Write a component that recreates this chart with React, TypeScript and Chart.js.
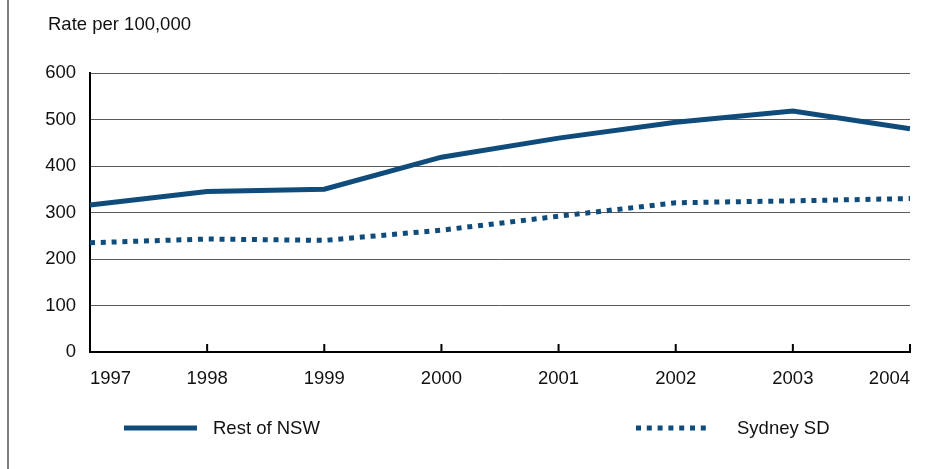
import React, { useEffect, useRef } from "react";
import { Chart, registerables } from "chart.js";

Chart.register(...registerables);

const years = ["1997", "1998", "1999", "2000", "2001", "2002", "2003", "2004"];
const restOfNSW = [316, 345, 350, 419, 460, 494, 518, 480];
const sydneySD = [235, 243, 240, 262, 292, 321, 325, 330];
const yTicks = [0, 100, 200, 300, 400, 500, 600];
const axisTitle = "Rate per 100,000";
const seriesNames = ["Rest of NSW", "Sydney SD"];

const BLUE = "#0f4c7b";
const FONT = "'Liberation Sans', Arial, sans-serif";
const FSIZE = 18.5;

const decorPlugin = {
  id: "decor",
  afterDraw(chart: any) {
    const ctx = chart.ctx;
    const area = chart.chartArea;
    const xs = chart.scales.x;
    ctx.save();
    // left frame line
    ctx.strokeStyle = "#555";
    ctx.lineWidth = 1.5;
    ctx.beginPath();
    ctx.moveTo(8, 0);
    ctx.lineTo(8, chart.height);
    ctx.stroke();
    // inward ticks
    ctx.strokeStyle = "#000";
    ctx.lineWidth = 2;
    for (let i = 0; i < years.length; i++) {
      const x = xs.getPixelForTick(i);
      ctx.beginPath();
      ctx.moveTo(x, area.bottom - 8);
      ctx.lineTo(x, area.bottom);
      ctx.stroke();
    }
    // title
    ctx.fillStyle = "#111";
    ctx.font = `${FSIZE}px ${FONT}`;
    ctx.textAlign = "left";
    ctx.textBaseline = "alphabetic";
    ctx.fillText(axisTitle, 48, 30);
    // legend
    ctx.textBaseline = "middle";
    ctx.strokeStyle = BLUE;
    ctx.lineWidth = 5;
    ctx.lineCap = "butt";
    ctx.beginPath();
    ctx.moveTo(124, 428);
    ctx.lineTo(197, 428);
    ctx.stroke();
    ctx.fillText(seriesNames[0], 213, 429);
    ctx.setLineDash([5, 5.8]);
    ctx.beginPath();
    ctx.moveTo(636, 428);
    ctx.lineTo(710, 428);
    ctx.stroke();
    ctx.setLineDash([]);
    ctx.fillText(seriesNames[1], 737, 429);
    ctx.restore();
  },
};

export default function App() {
  const ref = useRef<HTMLCanvasElement | null>(null);
  useEffect(() => {
    if (!ref.current) return;
    const chart = new Chart(ref.current, {
      type: "line",
      data: {
        labels: years,
        datasets: [
          {
            label: seriesNames[0],
            data: restOfNSW,
            borderColor: BLUE,
            borderWidth: 5,
            pointRadius: 0,
            tension: 0,
            fill: false,
          },
          {
            label: seriesNames[1],
            data: sydneySD,
            borderColor: BLUE,
            borderWidth: 5,
            borderDash: [5, 5.8],
            borderCapStyle: "butt",
            pointRadius: 0,
            tension: 0,
            fill: false,
          },
        ],
      },
      options: {
        responsive: false,
        animation: false,
        layout: { padding: { top: 73, right: 21, left: 0, bottom: 0 } },
        plugins: {
          legend: { display: false },
          title: { display: false },
          tooltip: { enabled: false },
        },
        scales: {
          x: {
            offset: false,
            grid: { display: false, drawTicks: false },
            border: { display: true, color: "#000", width: 2 },
            ticks: {
              autoSkip: false,
              maxRotation: 0,
              align: "inner",
              padding: 16,
              color: "#111",
              font: { family: FONT, size: FSIZE },
            },
            afterFit(scale: any) {
              scale.height = 469 - 352;
            },
          },
          y: {
            min: 0,
            max: 600,
            afterBuildTicks(scale: any) {
              scale.ticks = yTicks.map((v) => ({ value: v }));
            },
            grid: { color: "#5a5a5a", lineWidth: 1, drawTicks: false },
            border: { display: true, color: "#000", width: 2 },
            ticks: {
              padding: 14,
              color: "#111",
              font: { family: FONT, size: FSIZE },
            },
            afterFit(scale: any) {
              scale.width = 90;
            },
          },
        },
      },
      plugins: [decorPlugin],
    } as any);
    return () => chart.destroy();
  }, []);
  return (
    <div style={{ position: "fixed", left: 0, top: 0, width: 931, height: 469, background: "#fff" }}>
      <canvas ref={ref} width={931} height={469} style={{ display: "block" }} />
    </div>
  );
}
